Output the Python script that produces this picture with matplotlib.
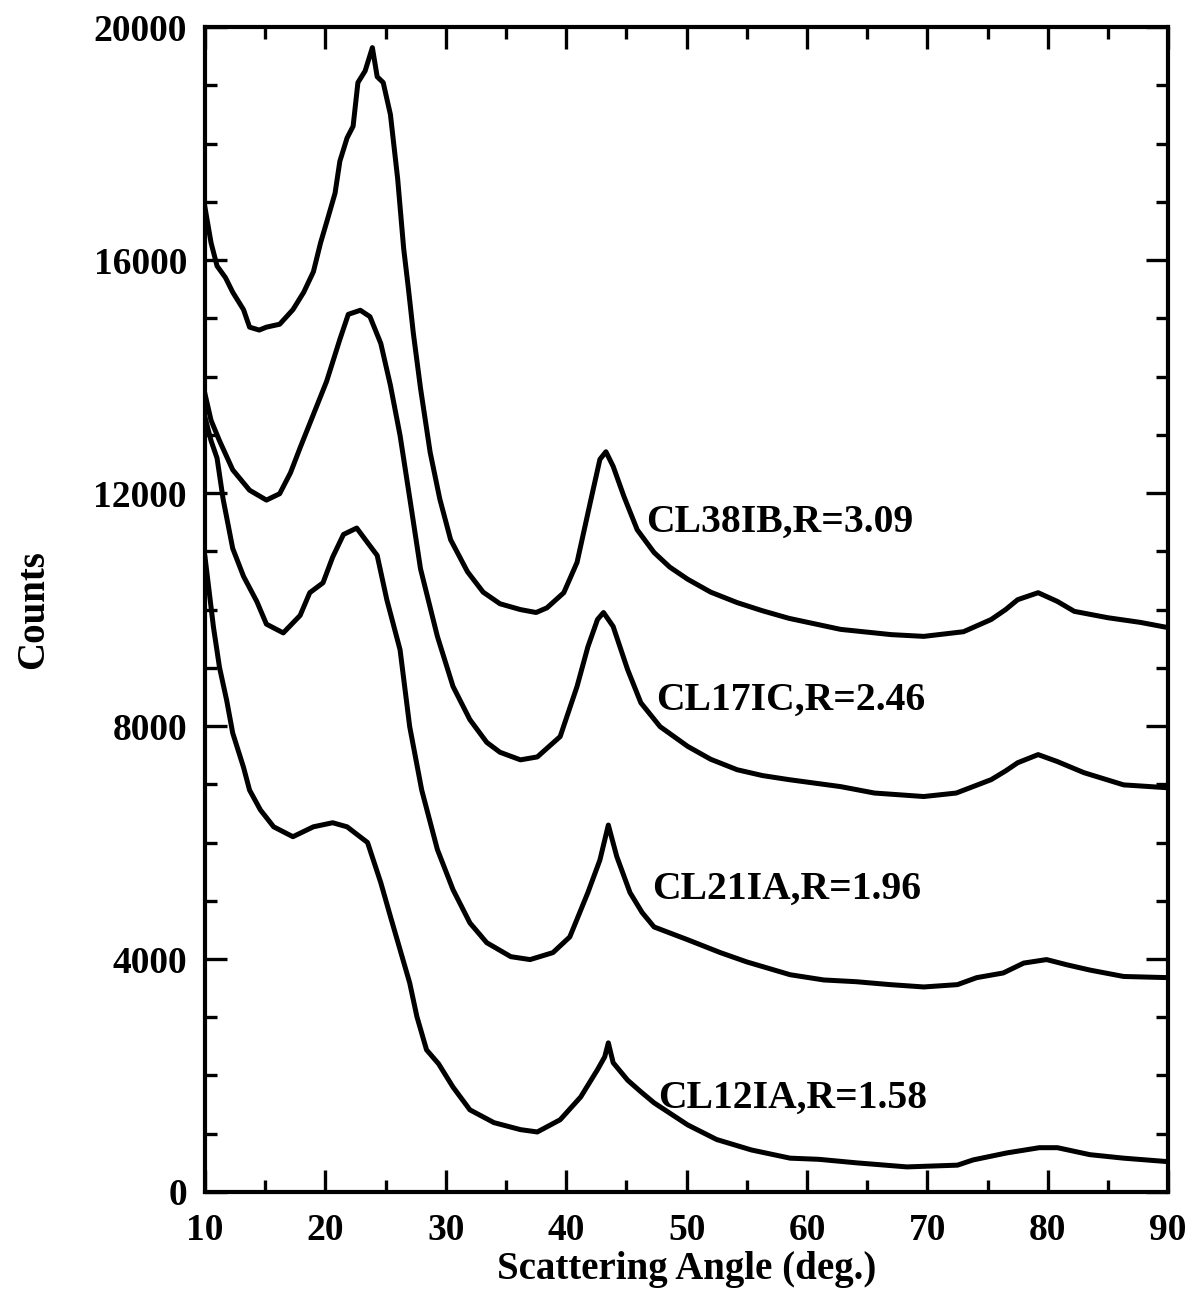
import numpy as np
import matplotlib
matplotlib.use("Agg")
import matplotlib.pyplot as plt
from matplotlib.ticker import MultipleLocator

plt.rcParams['font.family'] = ['Liberation Serif', 'DejaVu Serif']
plt.rcParams['font.weight'] = 'bold'

# values
x_38 = [10, 10.5, 11, 11.7, 12.3, 13.2, 13.7, 14.5, 15.1, 16.2, 17.3, 18.2, 19.0, 19.6,
        20.1, 20.8, 21.2, 21.8, 22.3, 22.7, 23.3, 23.9, 24.3, 24.8, 25.4, 26.0, 26.5,
        26.9, 27.3, 27.9, 28.7, 29.5, 30.4, 31.8, 33.1, 34.5, 36.2, 37.5, 38.4, 39.8,
        40.9, 42.0, 42.8, 43.3, 43.9, 44.8, 45.9, 47.3, 48.6, 50.1, 52.0, 54.2, 56.3,
        58.5, 62.8, 67.0, 69.7, 73.0, 75.3, 76.5, 77.5, 79.2, 80.8, 82.2, 85.0, 87.7, 90]
y_38 = [16900, 16300, 15900, 15700, 15450, 15150, 14850, 14800, 14850, 14900, 15150,
        15450, 15800, 16300, 16650, 17150, 17700, 18100, 18300, 19050, 19250, 19650,
        19150, 19050, 18500, 17400, 16200, 15500, 14750, 13800, 12700, 11900, 11200,
        10650, 10300, 10100, 10000, 9950, 10030, 10290, 10810, 11840, 12580, 12710,
        12460, 11940, 11370, 10980, 10730, 10520, 10300, 10120, 9980, 9850, 9660, 9570,
        9540, 9620, 9830, 10000, 10170, 10290, 10140, 9970, 9860, 9780, 9690]

x_17 = [10, 10.5, 11.2, 12.3, 13.7, 15.1, 16.2, 17.1, 17.9, 19.0, 20.1, 21.2, 21.9,
        22.9, 23.7, 24.6, 25.4, 26.2, 27.0, 27.9, 29.3, 30.6, 32.0, 33.4, 34.5, 36.2,
        37.6, 39.5, 40.9, 41.8, 42.6, 43.1, 43.9, 45.1, 46.2, 47.8, 50.1, 52.0, 54.2,
        56.3, 58.5, 62.8, 65.6, 69.7, 72.4, 75.3, 76.5, 77.5, 79.2, 80.8, 83.0, 86.3, 90]
y_17 = [13700, 13250, 12900, 12400, 12050, 11880, 11990, 12350, 12780, 13350, 13920,
        14640, 15070, 15140, 15030, 14570, 13850, 12990, 11920, 10700, 9540, 8680,
        8110, 7720, 7550, 7420, 7470, 7820, 8680, 9360, 9830, 9950, 9710, 8970, 8400,
        7990, 7650, 7430, 7250, 7150, 7080, 6960, 6850, 6790, 6850, 7080, 7230, 7370,
        7510, 7390, 7200, 6990, 6940]

x_21 = [10, 10.5, 11.0, 11.5, 12.3, 13.2, 14.3, 15.1, 16.5, 17.9, 18.7, 19.8, 20.6,
        21.5, 22.6, 23.5, 24.3, 25.1, 26.2, 27.0, 28.0, 29.3, 30.6, 32.0, 33.4, 35.4,
        37.0, 38.9, 40.3, 41.8, 42.8, 43.5, 44.2, 45.3, 46.3, 47.3, 50.1, 52.8, 55.0,
        58.6, 61.4, 64.1, 66.9, 69.7, 72.5, 74.1, 76.3, 78.0, 79.9, 81.6, 83.5, 86.3, 90]
y_21 = [13300, 12900, 12600, 11900, 11050, 10570, 10140, 9750, 9600, 9900, 10290,
        10460, 10900, 11290, 11400, 11150, 10930, 10170, 9310, 7990, 6900, 5880, 5190,
        4620, 4280, 4040, 3990, 4110, 4380, 5140, 5700, 6300, 5760, 5140, 4800, 4550,
        4330, 4110, 3950, 3730, 3640, 3610, 3560, 3520, 3560, 3680, 3760, 3930, 3990,
        3900, 3810, 3700, 3680]

x_12 = [10, 10.7, 11.2, 11.8, 12.3, 13.2, 13.7, 14.6, 15.7, 17.3, 19.0, 20.6, 21.8,
        23.5, 24.6, 25.4, 26.2, 27.0, 27.6, 28.4, 29.4, 30.6, 32.0, 34.0, 36.2, 37.6,
        39.5, 41.2, 42.6, 43.2, 43.5, 43.9, 45.1, 46.2, 47.3, 50.1, 52.5, 55.4, 58.6,
        61.0, 64.1, 68.3, 72.5, 73.8, 76.6, 79.3, 80.8, 83.5, 86.3, 90]
y_12 = [10900, 9700, 9010, 8440, 7880, 7290, 6900, 6560, 6270, 6100, 6270, 6340, 6270,
        6000, 5310, 4730, 4160, 3590, 3010, 2440, 2200, 1800, 1410, 1190, 1070, 1030,
        1240, 1630, 2100, 2320, 2560, 2220, 1920, 1720, 1530, 1150, 900, 720, 580, 560,
        500, 430, 460, 550, 670, 760, 760, 640, 580, 520]

labels = ['CL38IB,R=3.09', 'CL17IC,R=2.46', 'CL21IA,R=1.96', 'CL12IA,R=1.58']
label_x = [46.6, 47.5, 47.1, 47.6]
label_y = [11500, 8450, 5200, 1600]

fig = plt.figure(figsize=(11.92, 12.97), dpi=100)
ax = fig.add_axes([0.172, 0.081, 0.808, 0.898])

for xs, ys in [(x_38, y_38), (x_17, y_17), (x_21, y_21), (x_12, y_12)]:
    ax.plot(xs, ys, color='black', lw=3.6, solid_joinstyle='round')

for t, lx, ly in zip(labels, label_x, label_y):
    ax.text(lx, ly, t, fontsize=28.5, fontweight='bold', va='center', ha='left')

ax.set_xlim(10, 90)
ax.set_ylim(0, 20000)
ax.xaxis.set_major_locator(MultipleLocator(10))
ax.xaxis.set_minor_locator(MultipleLocator(5))
ax.yaxis.set_major_locator(MultipleLocator(4000))
ax.yaxis.set_minor_locator(MultipleLocator(1000))
ax.tick_params(which='both', direction='in', top=True, right=True, width=2.4,
               labelsize=27)
ax.tick_params(axis='x', pad=15)
ax.tick_params(axis='y', pad=13)
ax.tick_params(which='major', length=16)
ax.tick_params(which='minor', length=8.5)
for lab in ax.get_xticklabels() + ax.get_yticklabels():
    lab.set_fontweight('bold')
for s in ax.spines.values():
    s.set_linewidth(3.0)

ax.set_xlabel('Scattering Angle (deg.)', fontsize=28, fontweight='bold', labelpad=2)
ax.set_ylabel('Counts', fontsize=28, fontweight='bold', labelpad=30)

fig.savefig('out.png', dpi=100)
